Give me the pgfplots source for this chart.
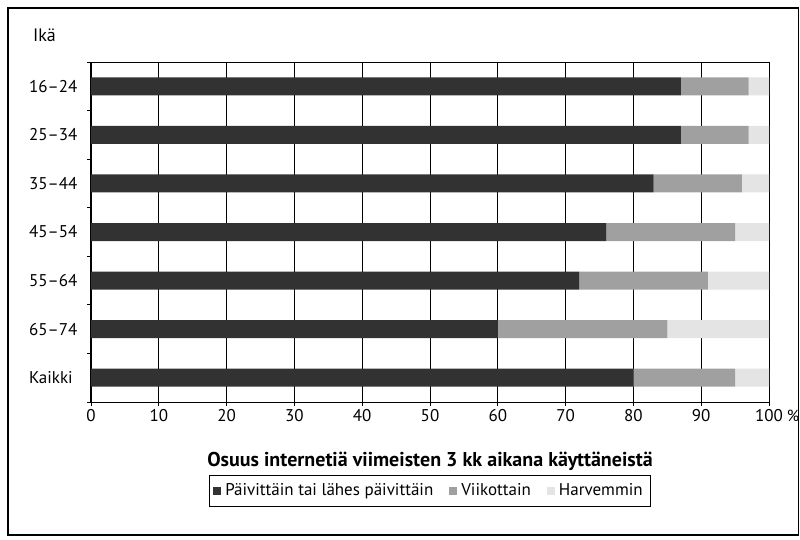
\documentclass[border=0pt]{standalone}
\usepackage{fontspec}
\setmainfont{PT Sans}
\usepackage{pgfplots}
\pgfplotsset{compat=1.18}
\definecolor{daily}{RGB}{50,50,50}
\definecolor{weekly}{RGB}{160,160,160}
\definecolor{rarely}{RGB}{228,228,228}

\begin{document}
\begin{tikzpicture}
\useasboundingbox (-45.5pt,-69pt) rectangle (354.5pt,201pt);
\draw[line width=0.7pt] (-41.5pt,-66.5pt) rectangle (353.6pt,197pt);
\begin{axis}[
    at={(0,0)}, anchor=south west,
    scale only axis,
    width=339pt, height=170pt,
    clip=false,
    xbar stacked,
    bar width=9pt,
    xmin=0, xmax=100,
    ymin=-0.5, ymax=6.5,
    y dir=reverse,
    xtick={0,10,...,100},
    ytick={0,...,6},
    yticklabels={16--24,25--34,35--44,45--54,55--64,65--74,Kaikki},
    minor ytick={-0.5,0.5,...,6.5},
    tick align=outside,
    xtick pos=bottom, ytick pos=left,
    major tick length=2pt,
    minor tick length=2pt,
    major y tick style={draw=none},
    minor y tick style={black, line width=0.4pt},
    major x tick style={black, line width=0.4pt},
    xmajorgrids,
    major x grid style={black, line width=0.4pt},
    axis line style={black, line width=0.5pt},
    tick label style={font=\fontsize{8.5}{10}\selectfont},
    xticklabel style={yshift=2pt},
    /pgf/number format/assume math mode=true,
    yticklabel style={anchor=west, xshift=-32.5pt},
    legend style={at={(0.5,-0.262)}, anchor=center, legend columns=3,
        draw=black, line width=0.5pt, font=\fontsize{8.5}{10}\selectfont,
        inner xsep=2pt, inner ysep=2pt,
        /tikz/every even column/.append style={column sep=6pt}},
    legend image code/.code={\draw[#1, draw=none] (0pt,-2pt) rectangle (4pt,2pt);},
]
\addplot[fill=daily, draw=none] coordinates {
    (87,0) (87,1) (83,2) (76,3) (72,4) (60,5) (80,6)
};
\addlegendentry{Päivittäin tai lähes päivittäin}
\addplot[fill=weekly, draw=none] coordinates {
    (10,0) (10,1) (13,2) (19,3) (19,4) (25,5) (15,6)
};
\addlegendentry{Viikottain}
\addplot[fill=rarely, draw=none] coordinates {
    (3,0) (3,1) (4,2) (5,3) (9,4) (15,5) (5,6)
};
\addlegendentry{Harvemmin}
\node[anchor=west, font=\fontsize{9}{11}\selectfont] at (axis description cs:0,1) [xshift=-32.5pt, yshift=13.5pt] {Ikä};
\node[anchor=north west, inner sep=0pt, font=\fontsize{8}{10}\selectfont] at (axis description cs:1,0) [xshift=8.8pt, yshift=-3.6pt] {\%};
\node[anchor=center, font=\bfseries\fontsize{10}{12}\selectfont] at (axis description cs:0.5,-0.176) {Osuus internetiä viimeisten 3 kk aikana käyttäneistä};
\end{axis}
\end{tikzpicture}
\end{document}
